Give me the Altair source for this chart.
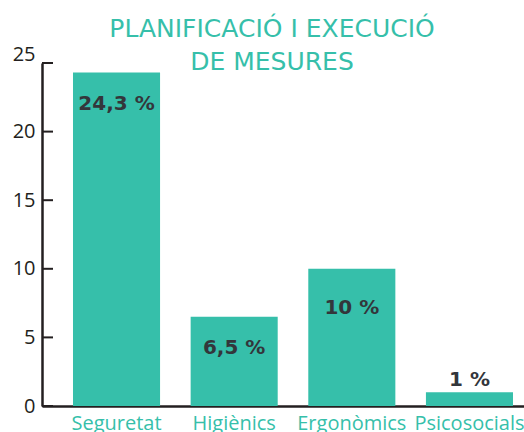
import altair as alt
import pandas as pd

categories = ["Seguretat", "Higiènics", "Ergonòmics", "Psicosocials"]
values = [24.3, 6.5, 10, 1]
labels = ["24,3 %", "6,5 %", "10 %", "1 %"]
tick_values = [0, 5, 10, 15, 20, 25]

TEAL = "#36bfaa"
DARK = "#33363b"
AXIS = "#231f20"

df = pd.DataFrame({"cat": categories, "val": values, "lab": labels})
ticks_df = pd.DataFrame({"t": tick_values})

x_scale = alt.Scale(domain=categories, paddingInner=0.26, paddingOuter=0.1785, align=0.738)
y_scale = alt.Scale(domain=[0, 25], nice=False)

base = alt.Chart(df)

bars = base.mark_bar(color=TEAL).encode(
    x=alt.X("cat:N", scale=x_scale, sort=categories,
            axis=alt.Axis(title=None, ticks=False, labelAngle=0, labelColor=TEAL,
                          labelFont="Open Sans", labelFontSize=20, labelPadding=7,
                          domainColor=AXIS, domainWidth=2.5)),
    y=alt.Y("val:Q", scale=y_scale,
            axis=alt.Axis(title=None, values=tick_values, ticks=False, grid=False,
                          labelColor=AXIS, labelFont="Open Sans", labelFontSize=20,
                          labelPadding=7, domainColor=AXIS, domainWidth=2.5,
                          labelOffset={"condition": {"test": "datum.value == 25", "value": -9}, "value": 0})),
)


def label_layer(test, dy):
    return base.transform_filter(test).mark_text(
        font="DejaVu Sans", fontWeight="bold", fontSize=20,
        color=DARK, baseline="alphabetic", align="center", dy=dy,
    ).encode(
        x=alt.X("cat:N", scale=x_scale, sort=categories),
        y=alt.Y("val:Q", scale=y_scale),
        text="lab:N",
    )


text_in = label_layer("datum.cat == 'Seguretat' || datum.cat == 'Higiènics'", 37)
text_erg = label_layer("datum.cat == 'Ergonòmics'", 45)
text_out = label_layer("datum.cat == 'Psicosocials'", -6)

tick_rules = alt.Chart(ticks_df).mark_rule(color=AXIS, strokeWidth=2).encode(
    y=alt.Y("t:Q", scale=y_scale),
    x=alt.value(0),
    x2=alt.value(11),
)

chart = alt.layer(bars, text_in, text_erg, text_out, tick_rules).properties(
    width=482,
    height=343,
    padding={"left": 42, "top": 63, "right": 0, "bottom": 26},
    autosize=alt.AutoSizeParams(type="none"),
    title=alt.TitleParams(
        text=["PLANIFICACIÓ I EXECUCIÓ", "DE MESURES"],
        font="DejaVu Sans", fontSize=25, fontWeight="normal", color=TEAL,
        lineHeight=33, anchor="middle", dx=-11, offset=-31,
    ),
).configure_view(stroke=None)

chart.save("out.html", embed_options={"renderer": "svg", "actions": False})
